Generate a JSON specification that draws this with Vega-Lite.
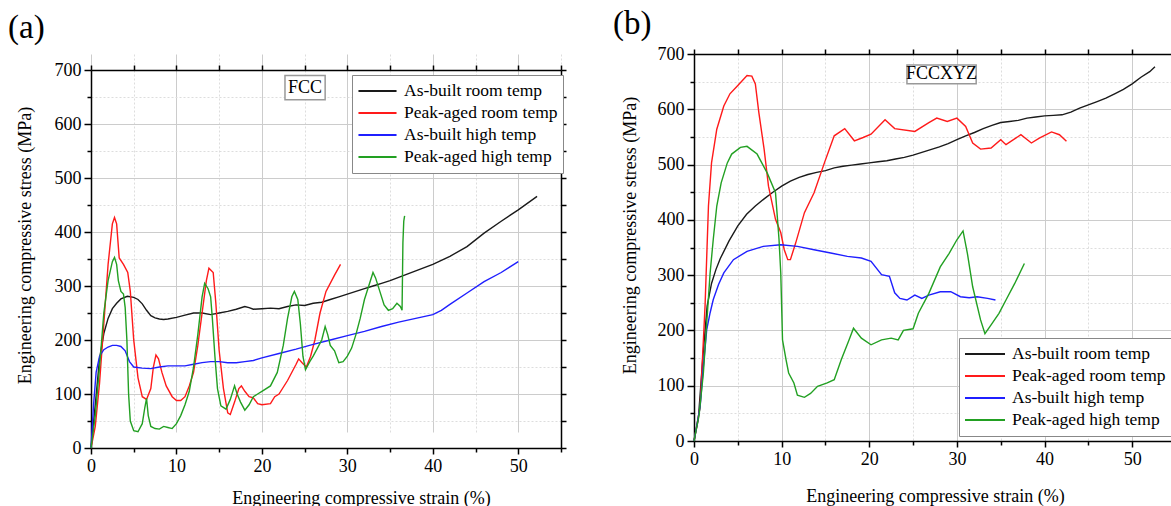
{
"$schema": "https://vega.github.io/schema/vega-lite/v6.json",
"background": "white",
"padding": {"left": 8, "top": 8, "right": 0, "bottom": 0},
"config": {"font": "Liberation Serif", "view": {"stroke": null},
 "axis": {"labelFont": "Liberation Serif", "titleFont": "Liberation Serif"},
 "legend": {"labelFont": "Liberation Serif"},
 "text": {"font": "Liberation Serif"},
 "title": {"font": "Liberation Serif"}},
"datasets": {
"a": [
{"series":"As-built room temp","strain":0,"stress":0},{"series":"As-built room temp","strain":0.5,"stress":80},{"series":"As-built room temp","strain":1,"stress":165},{"series":"As-built room temp","strain":1.5,"stress":212},{"series":"As-built room temp","strain":2,"stress":240},{"series":"As-built room temp","strain":2.5,"stress":258},{"series":"As-built room temp","strain":3,"stress":268},{"series":"As-built room temp","strain":3.5,"stress":276},{"series":"As-built room temp","strain":4.25,"stress":281},{"series":"As-built room temp","strain":5,"stress":279},{"series":"As-built room temp","strain":5.5,"stress":275},{"series":"As-built room temp","strain":6,"stress":267},{"series":"As-built room temp","strain":6.5,"stress":255},{"series":"As-built room temp","strain":7,"stress":245},{"series":"As-built room temp","strain":7.5,"stress":241},{"series":"As-built room temp","strain":8,"stress":239},{"series":"As-built room temp","strain":8.5,"stress":238},{"series":"As-built room temp","strain":9,"stress":239},{"series":"As-built room temp","strain":10,"stress":242},{"series":"As-built room temp","strain":11,"stress":246},{"series":"As-built room temp","strain":12,"stress":250},{"series":"As-built room temp","strain":13,"stress":250},{"series":"As-built room temp","strain":14,"stress":247},{"series":"As-built room temp","strain":15,"stress":250},{"series":"As-built room temp","strain":16,"stress":253},{"series":"As-built room temp","strain":17,"stress":257},{"series":"As-built room temp","strain":18,"stress":262},{"series":"As-built room temp","strain":18.5,"stress":260},{"series":"As-built room temp","strain":19,"stress":257},{"series":"As-built room temp","strain":20,"stress":258},{"series":"As-built room temp","strain":21,"stress":259},{"series":"As-built room temp","strain":22,"stress":258},{"series":"As-built room temp","strain":23,"stress":262},{"series":"As-built room temp","strain":24,"stress":265},{"series":"As-built room temp","strain":25,"stress":264},{"series":"As-built room temp","strain":26,"stress":268},{"series":"As-built room temp","strain":27,"stress":270},{"series":"As-built room temp","strain":28,"stress":275},{"series":"As-built room temp","strain":29,"stress":280},{"series":"As-built room temp","strain":30,"stress":285},{"series":"As-built room temp","strain":31,"stress":290},{"series":"As-built room temp","strain":32,"stress":295},{"series":"As-built room temp","strain":33,"stress":300},{"series":"As-built room temp","strain":34,"stress":305},{"series":"As-built room temp","strain":35,"stress":310},{"series":"As-built room temp","strain":36,"stress":316},{"series":"As-built room temp","strain":38,"stress":328},{"series":"As-built room temp","strain":40,"stress":340},{"series":"As-built room temp","strain":42,"stress":355},{"series":"As-built room temp","strain":44,"stress":373},{"series":"As-built room temp","strain":46,"stress":398},{"series":"As-built room temp","strain":48,"stress":420},{"series":"As-built room temp","strain":50,"stress":441},{"series":"As-built room temp","strain":52.2,"stress":466},
{"series":"Peak-aged room temp","strain":0,"stress":0},{"series":"Peak-aged room temp","strain":0.5,"stress":40},{"series":"Peak-aged room temp","strain":1,"stress":120},{"series":"Peak-aged room temp","strain":1.5,"stress":230},{"series":"Peak-aged room temp","strain":2,"stress":340},{"series":"Peak-aged room temp","strain":2.5,"stress":415},{"series":"Peak-aged room temp","strain":2.75,"stress":427},{"series":"Peak-aged room temp","strain":3,"stress":415},{"series":"Peak-aged room temp","strain":3.3,"stress":352},{"series":"Peak-aged room temp","strain":3.8,"stress":340},{"series":"Peak-aged room temp","strain":4.3,"stress":325},{"series":"Peak-aged room temp","strain":4.6,"stress":290},{"series":"Peak-aged room temp","strain":5,"stress":200},{"series":"Peak-aged room temp","strain":5.5,"stress":130},{"series":"Peak-aged room temp","strain":6,"stress":95},{"series":"Peak-aged room temp","strain":6.5,"stress":90},{"series":"Peak-aged room temp","strain":7,"stress":110},{"series":"Peak-aged room temp","strain":7.3,"stress":150},{"series":"Peak-aged room temp","strain":7.6,"stress":172},{"series":"Peak-aged room temp","strain":7.9,"stress":165},{"series":"Peak-aged room temp","strain":8.3,"stress":140},{"series":"Peak-aged room temp","strain":8.8,"stress":115},{"series":"Peak-aged room temp","strain":9.5,"stress":95},{"series":"Peak-aged room temp","strain":10,"stress":88},{"series":"Peak-aged room temp","strain":10.5,"stress":88},{"series":"Peak-aged room temp","strain":11,"stress":95},{"series":"Peak-aged room temp","strain":11.5,"stress":115},{"series":"Peak-aged room temp","strain":12,"stress":140},{"series":"Peak-aged room temp","strain":12.5,"stress":190},{"series":"Peak-aged room temp","strain":13,"stress":250},{"series":"Peak-aged room temp","strain":13.5,"stress":310},{"series":"Peak-aged room temp","strain":13.8,"stress":333},{"series":"Peak-aged room temp","strain":14.3,"stress":325},{"series":"Peak-aged room temp","strain":14.6,"stress":270},{"series":"Peak-aged room temp","strain":15,"stress":180},{"series":"Peak-aged room temp","strain":15.5,"stress":110},{"series":"Peak-aged room temp","strain":16,"stress":65},{"series":"Peak-aged room temp","strain":16.3,"stress":62},{"series":"Peak-aged room temp","strain":16.8,"stress":85},{"series":"Peak-aged room temp","strain":17.3,"stress":110},{"series":"Peak-aged room temp","strain":17.6,"stress":115},{"series":"Peak-aged room temp","strain":18,"stress":105},{"series":"Peak-aged room temp","strain":18.5,"stress":95},{"series":"Peak-aged room temp","strain":19,"stress":93},{"series":"Peak-aged room temp","strain":19.5,"stress":82},{"series":"Peak-aged room temp","strain":20,"stress":80},{"series":"Peak-aged room temp","strain":21,"stress":82},{"series":"Peak-aged room temp","strain":21.5,"stress":95},{"series":"Peak-aged room temp","strain":22,"stress":100},{"series":"Peak-aged room temp","strain":23,"stress":125},{"series":"Peak-aged room temp","strain":24,"stress":155},{"series":"Peak-aged room temp","strain":24.3,"stress":165},{"series":"Peak-aged room temp","strain":24.7,"stress":158},{"series":"Peak-aged room temp","strain":25.2,"stress":150},{"series":"Peak-aged room temp","strain":25.7,"stress":170},{"series":"Peak-aged room temp","strain":26.2,"stress":200},{"series":"Peak-aged room temp","strain":26.8,"stress":250},{"series":"Peak-aged room temp","strain":27.5,"stress":290},{"series":"Peak-aged room temp","strain":28.5,"stress":320},{"series":"Peak-aged room temp","strain":29.2,"stress":340},
{"series":"As-built high temp","strain":0,"stress":0},{"series":"As-built high temp","strain":0.3,"stress":80},{"series":"As-built high temp","strain":0.6,"stress":140},{"series":"As-built high temp","strain":1,"stress":170},{"series":"As-built high temp","strain":1.5,"stress":182},{"series":"As-built high temp","strain":2,"stress":187},{"series":"As-built high temp","strain":2.5,"stress":190},{"series":"As-built high temp","strain":3,"stress":190},{"series":"As-built high temp","strain":3.5,"stress":188},{"series":"As-built high temp","strain":4,"stress":180},{"series":"As-built high temp","strain":4.5,"stress":160},{"series":"As-built high temp","strain":5,"stress":150},{"series":"As-built high temp","strain":6,"stress":148},{"series":"As-built high temp","strain":7,"stress":147},{"series":"As-built high temp","strain":8,"stress":150},{"series":"As-built high temp","strain":9,"stress":152},{"series":"As-built high temp","strain":10,"stress":152},{"series":"As-built high temp","strain":11,"stress":152},{"series":"As-built high temp","strain":12,"stress":155},{"series":"As-built high temp","strain":13,"stress":158},{"series":"As-built high temp","strain":14,"stress":160},{"series":"As-built high temp","strain":15,"stress":160},{"series":"As-built high temp","strain":16,"stress":158},{"series":"As-built high temp","strain":17,"stress":158},{"series":"As-built high temp","strain":18,"stress":160},{"series":"As-built high temp","strain":19,"stress":162},{"series":"As-built high temp","strain":20,"stress":167},{"series":"As-built high temp","strain":22,"stress":175},{"series":"As-built high temp","strain":24,"stress":183},{"series":"As-built high temp","strain":26,"stress":192},{"series":"As-built high temp","strain":28,"stress":200},{"series":"As-built high temp","strain":30,"stress":208},{"series":"As-built high temp","strain":32,"stress":216},{"series":"As-built high temp","strain":34,"stress":225},{"series":"As-built high temp","strain":36,"stress":233},{"series":"As-built high temp","strain":38,"stress":240},{"series":"As-built high temp","strain":40,"stress":247},{"series":"As-built high temp","strain":41,"stress":255},{"series":"As-built high temp","strain":42,"stress":266},{"series":"As-built high temp","strain":44,"stress":287},{"series":"As-built high temp","strain":46,"stress":308},{"series":"As-built high temp","strain":48,"stress":325},{"series":"As-built high temp","strain":50,"stress":345},
{"series":"Peak-aged high temp","strain":0,"stress":0},{"series":"Peak-aged high temp","strain":0.5,"stress":60},{"series":"Peak-aged high temp","strain":1,"stress":150},{"series":"Peak-aged high temp","strain":1.5,"stress":250},{"series":"Peak-aged high temp","strain":2,"stress":310},{"series":"Peak-aged high temp","strain":2.5,"stress":345},{"series":"Peak-aged high temp","strain":2.75,"stress":353},{"series":"Peak-aged high temp","strain":3,"stress":340},{"series":"Peak-aged high temp","strain":3.2,"stress":310},{"series":"Peak-aged high temp","strain":3.5,"stress":290},{"series":"Peak-aged high temp","strain":3.8,"stress":285},{"series":"Peak-aged high temp","strain":4,"stress":260},{"series":"Peak-aged high temp","strain":4.2,"stress":200},{"series":"Peak-aged high temp","strain":4.4,"stress":100},{"series":"Peak-aged high temp","strain":4.6,"stress":50},{"series":"Peak-aged high temp","strain":5,"stress":32},{"series":"Peak-aged high temp","strain":5.5,"stress":30},{"series":"Peak-aged high temp","strain":6,"stress":45},{"series":"Peak-aged high temp","strain":6.3,"stress":75},{"series":"Peak-aged high temp","strain":6.5,"stress":92},{"series":"Peak-aged high temp","strain":6.7,"stress":60},{"series":"Peak-aged high temp","strain":7,"stress":40},{"series":"Peak-aged high temp","strain":7.5,"stress":36},{"series":"Peak-aged high temp","strain":8,"stress":35},{"series":"Peak-aged high temp","strain":8.5,"stress":40},{"series":"Peak-aged high temp","strain":9,"stress":38},{"series":"Peak-aged high temp","strain":9.5,"stress":36},{"series":"Peak-aged high temp","strain":10,"stress":45},{"series":"Peak-aged high temp","strain":10.5,"stress":60},{"series":"Peak-aged high temp","strain":11,"stress":80},{"series":"Peak-aged high temp","strain":11.5,"stress":105},{"series":"Peak-aged high temp","strain":12,"stress":150},{"series":"Peak-aged high temp","strain":12.5,"stress":210},{"series":"Peak-aged high temp","strain":13,"stress":280},{"series":"Peak-aged high temp","strain":13.3,"stress":305},{"series":"Peak-aged high temp","strain":13.7,"stress":295},{"series":"Peak-aged high temp","strain":14,"stress":280},{"series":"Peak-aged high temp","strain":14.2,"stress":240},{"series":"Peak-aged high temp","strain":14.5,"stress":170},{"series":"Peak-aged high temp","strain":14.8,"stress":110},{"series":"Peak-aged high temp","strain":15.2,"stress":78},{"series":"Peak-aged high temp","strain":15.8,"stress":72},{"series":"Peak-aged high temp","strain":16.3,"stress":90},{"series":"Peak-aged high temp","strain":16.8,"stress":115},{"series":"Peak-aged high temp","strain":17.1,"stress":100},{"series":"Peak-aged high temp","strain":17.5,"stress":85},{"series":"Peak-aged high temp","strain":18,"stress":70},{"series":"Peak-aged high temp","strain":18.5,"stress":80},{"series":"Peak-aged high temp","strain":19,"stress":95},{"series":"Peak-aged high temp","strain":19.5,"stress":100},{"series":"Peak-aged high temp","strain":20,"stress":105},{"series":"Peak-aged high temp","strain":21,"stress":115},{"series":"Peak-aged high temp","strain":21.8,"stress":140},{"series":"Peak-aged high temp","strain":22.5,"stress":190},{"series":"Peak-aged high temp","strain":23,"stress":240},{"series":"Peak-aged high temp","strain":23.5,"stress":280},{"series":"Peak-aged high temp","strain":23.8,"stress":290},{"series":"Peak-aged high temp","strain":24.2,"stress":275},{"series":"Peak-aged high temp","strain":24.5,"stress":230},{"series":"Peak-aged high temp","strain":24.8,"stress":170},{"series":"Peak-aged high temp","strain":25.1,"stress":145},{"series":"Peak-aged high temp","strain":25.6,"stress":160},{"series":"Peak-aged high temp","strain":26,"stress":170},{"series":"Peak-aged high temp","strain":26.5,"stress":185},{"series":"Peak-aged high temp","strain":27,"stress":200},{"series":"Peak-aged high temp","strain":27.4,"stress":225},{"series":"Peak-aged high temp","strain":27.7,"stress":210},{"series":"Peak-aged high temp","strain":28,"stress":190},{"series":"Peak-aged high temp","strain":28.5,"stress":180},{"series":"Peak-aged high temp","strain":29,"stress":158},{"series":"Peak-aged high temp","strain":29.5,"stress":160},{"series":"Peak-aged high temp","strain":30,"stress":170},{"series":"Peak-aged high temp","strain":30.5,"stress":185},{"series":"Peak-aged high temp","strain":31,"stress":210},{"series":"Peak-aged high temp","strain":31.5,"stress":240},{"series":"Peak-aged high temp","strain":32,"stress":275},{"series":"Peak-aged high temp","strain":32.5,"stress":300},{"series":"Peak-aged high temp","strain":33,"stress":325},{"series":"Peak-aged high temp","strain":33.3,"stress":315},{"series":"Peak-aged high temp","strain":33.8,"stress":290},{"series":"Peak-aged high temp","strain":34.3,"stress":265},{"series":"Peak-aged high temp","strain":34.8,"stress":255},{"series":"Peak-aged high temp","strain":35.3,"stress":258},{"series":"Peak-aged high temp","strain":35.8,"stress":268},{"series":"Peak-aged high temp","strain":36.2,"stress":262},{"series":"Peak-aged high temp","strain":36.4,"stress":255},{"series":"Peak-aged high temp","strain":36.5,"stress":380},{"series":"Peak-aged high temp","strain":36.6,"stress":420},{"series":"Peak-aged high temp","strain":36.7,"stress":430}
],
"b": [
{"series":"As-built room temp","strain":0,"stress":0},{"series":"As-built room temp","strain":0.5,"stress":40},{"series":"As-built room temp","strain":1,"stress":150},{"series":"As-built room temp","strain":1.5,"stress":244},{"series":"As-built room temp","strain":2,"stress":285},{"series":"As-built room temp","strain":2.5,"stress":310},{"series":"As-built room temp","strain":3,"stress":330},{"series":"As-built room temp","strain":4,"stress":362},{"series":"As-built room temp","strain":5,"stress":389},{"series":"As-built room temp","strain":6,"stress":410},{"series":"As-built room temp","strain":7,"stress":425},{"series":"As-built room temp","strain":8,"stress":438},{"series":"As-built room temp","strain":9,"stress":450},{"series":"As-built room temp","strain":10,"stress":461},{"series":"As-built room temp","strain":11,"stress":470},{"series":"As-built room temp","strain":12,"stress":477},{"series":"As-built room temp","strain":13,"stress":482},{"series":"As-built room temp","strain":14,"stress":486},{"series":"As-built room temp","strain":15,"stress":489},{"series":"As-built room temp","strain":16,"stress":494},{"series":"As-built room temp","strain":17,"stress":497},{"series":"As-built room temp","strain":18,"stress":499},{"series":"As-built room temp","strain":19,"stress":501},{"series":"As-built room temp","strain":20,"stress":503},{"series":"As-built room temp","strain":21,"stress":505},{"series":"As-built room temp","strain":22,"stress":507},{"series":"As-built room temp","strain":23,"stress":510},{"series":"As-built room temp","strain":24,"stress":513},{"series":"As-built room temp","strain":25,"stress":517},{"series":"As-built room temp","strain":26,"stress":522},{"series":"As-built room temp","strain":27,"stress":527},{"series":"As-built room temp","strain":28,"stress":532},{"series":"As-built room temp","strain":29,"stress":538},{"series":"As-built room temp","strain":30,"stress":545},{"series":"As-built room temp","strain":31,"stress":552},{"series":"As-built room temp","strain":32,"stress":558},{"series":"As-built room temp","strain":33,"stress":565},{"series":"As-built room temp","strain":34,"stress":571},{"series":"As-built room temp","strain":35,"stress":576},{"series":"As-built room temp","strain":36,"stress":578},{"series":"As-built room temp","strain":37,"stress":580},{"series":"As-built room temp","strain":38,"stress":584},{"series":"As-built room temp","strain":39,"stress":586},{"series":"As-built room temp","strain":40,"stress":588},{"series":"As-built room temp","strain":41,"stress":589},{"series":"As-built room temp","strain":42,"stress":590},{"series":"As-built room temp","strain":43,"stress":595},{"series":"As-built room temp","strain":44,"stress":602},{"series":"As-built room temp","strain":45,"stress":608},{"series":"As-built room temp","strain":46,"stress":614},{"series":"As-built room temp","strain":47,"stress":620},{"series":"As-built room temp","strain":48,"stress":628},{"series":"As-built room temp","strain":49,"stress":636},{"series":"As-built room temp","strain":50,"stress":646},{"series":"As-built room temp","strain":51,"stress":658},{"series":"As-built room temp","strain":52,"stress":668},{"series":"As-built room temp","strain":52.6,"stress":677},
{"series":"Peak-aged room temp","strain":0,"stress":0},{"series":"Peak-aged room temp","strain":0.7,"stress":62},{"series":"Peak-aged room temp","strain":1.26,"stress":244},{"series":"Peak-aged room temp","strain":1.65,"stress":425},{"series":"Peak-aged room temp","strain":2,"stress":503},{"series":"Peak-aged room temp","strain":2.6,"stress":564},{"series":"Peak-aged room temp","strain":3.4,"stress":606},{"series":"Peak-aged room temp","strain":4.1,"stress":628},{"series":"Peak-aged room temp","strain":5,"stress":643},{"series":"Peak-aged room temp","strain":6.05,"stress":661},{"series":"Peak-aged room temp","strain":6.6,"stress":660},{"series":"Peak-aged room temp","strain":7,"stress":646},{"series":"Peak-aged room temp","strain":7.4,"stress":594},{"series":"Peak-aged room temp","strain":8,"stress":528},{"series":"Peak-aged room temp","strain":8.5,"stress":461},{"series":"Peak-aged room temp","strain":9.3,"stress":401},{"series":"Peak-aged room temp","strain":9.9,"stress":377},{"series":"Peak-aged room temp","strain":10.3,"stress":346},{"series":"Peak-aged room temp","strain":10.7,"stress":328},{"series":"Peak-aged room temp","strain":11,"stress":328},{"series":"Peak-aged room temp","strain":11.6,"stress":358},{"series":"Peak-aged room temp","strain":12.6,"stress":413},{"series":"Peak-aged room temp","strain":13.7,"stress":449},{"series":"Peak-aged room temp","strain":14.9,"stress":504},{"series":"Peak-aged room temp","strain":16,"stress":552},{"series":"Peak-aged room temp","strain":17.2,"stress":565},{"series":"Peak-aged room temp","strain":18.3,"stress":543},{"series":"Peak-aged room temp","strain":19.3,"stress":549},{"series":"Peak-aged room temp","strain":20.2,"stress":555},{"series":"Peak-aged room temp","strain":21.8,"stress":581},{"series":"Peak-aged room temp","strain":22.9,"stress":565},{"series":"Peak-aged room temp","strain":25.2,"stress":560},{"series":"Peak-aged room temp","strain":26.8,"stress":576},{"series":"Peak-aged room temp","strain":27.7,"stress":584},{"series":"Peak-aged room temp","strain":28.9,"stress":578},{"series":"Peak-aged room temp","strain":30,"stress":584},{"series":"Peak-aged room temp","strain":31,"stress":569},{"series":"Peak-aged room temp","strain":31.8,"stress":539},{"series":"Peak-aged room temp","strain":32.7,"stress":528},{"series":"Peak-aged room temp","strain":33.9,"stress":530},{"series":"Peak-aged room temp","strain":35,"stress":545},{"series":"Peak-aged room temp","strain":35.6,"stress":536},{"series":"Peak-aged room temp","strain":37.3,"stress":554},{"series":"Peak-aged room temp","strain":38.5,"stress":539},{"series":"Peak-aged room temp","strain":39.4,"stress":548},{"series":"Peak-aged room temp","strain":40.8,"stress":559},{"series":"Peak-aged room temp","strain":41.7,"stress":554},{"series":"Peak-aged room temp","strain":42.5,"stress":542},
{"series":"As-built high temp","strain":0,"stress":0},{"series":"As-built high temp","strain":0.7,"stress":62},{"series":"As-built high temp","strain":1.07,"stress":135},{"series":"As-built high temp","strain":1.45,"stress":201},{"series":"As-built high temp","strain":1.84,"stress":232},{"series":"As-built high temp","strain":2.2,"stress":256},{"series":"As-built high temp","strain":2.8,"stress":283},{"series":"As-built high temp","strain":3.4,"stress":304},{"series":"As-built high temp","strain":4.5,"stress":328},{"series":"As-built high temp","strain":6.05,"stress":343},{"series":"As-built high temp","strain":7.9,"stress":352},{"series":"As-built high temp","strain":9.9,"stress":355},{"series":"As-built high temp","strain":11.8,"stress":352},{"series":"As-built high temp","strain":13.7,"stress":346},{"series":"As-built high temp","strain":15.6,"stress":340},{"series":"As-built high temp","strain":17.5,"stress":334},{"series":"As-built high temp","strain":19.1,"stress":331},{"series":"As-built high temp","strain":20.2,"stress":325},{"series":"As-built high temp","strain":21.4,"stress":301},{"series":"As-built high temp","strain":22.3,"stress":298},{"series":"As-built high temp","strain":22.9,"stress":268},{"series":"As-built high temp","strain":23.5,"stress":258},{"series":"As-built high temp","strain":24.3,"stress":255},{"series":"As-built high temp","strain":25.2,"stress":264},{"series":"As-built high temp","strain":26,"stress":258},{"series":"As-built high temp","strain":26.8,"stress":264},{"series":"As-built high temp","strain":28.1,"stress":270},{"series":"As-built high temp","strain":29.3,"stress":270},{"series":"As-built high temp","strain":30.4,"stress":261},{"series":"As-built high temp","strain":31.4,"stress":259},{"series":"As-built high temp","strain":32.3,"stress":261},{"series":"As-built high temp","strain":33.5,"stress":258},{"series":"As-built high temp","strain":34.4,"stress":255},
{"series":"Peak-aged high temp","strain":0,"stress":0},{"series":"Peak-aged high temp","strain":0.6,"stress":50},{"series":"Peak-aged high temp","strain":1.07,"stress":123},{"series":"Peak-aged high temp","strain":1.45,"stress":213},{"series":"Peak-aged high temp","strain":1.84,"stress":304},{"series":"Peak-aged high temp","strain":2.2,"stress":365},{"series":"Peak-aged high temp","strain":2.6,"stress":425},{"series":"Peak-aged high temp","strain":3.1,"stress":467},{"series":"Peak-aged high temp","strain":3.8,"stress":503},{"series":"Peak-aged high temp","strain":4.3,"stress":519},{"series":"Peak-aged high temp","strain":5.3,"stress":531},{"series":"Peak-aged high temp","strain":6.05,"stress":533},{"series":"Peak-aged high temp","strain":7.2,"stress":519},{"series":"Peak-aged high temp","strain":8.35,"stress":485},{"series":"Peak-aged high temp","strain":9.3,"stress":449},{"series":"Peak-aged high temp","strain":9.7,"stress":365},{"series":"Peak-aged high temp","strain":9.9,"stress":304},{"series":"Peak-aged high temp","strain":10.1,"stress":183},{"series":"Peak-aged high temp","strain":10.5,"stress":147},{"series":"Peak-aged high temp","strain":10.8,"stress":123},{"series":"Peak-aged high temp","strain":11.4,"stress":105},{"series":"Peak-aged high temp","strain":11.8,"stress":83},{"series":"Peak-aged high temp","strain":12.6,"stress":79},{"series":"Peak-aged high temp","strain":13.3,"stress":86},{"series":"Peak-aged high temp","strain":14.1,"stress":99},{"series":"Peak-aged high temp","strain":15.2,"stress":105},{"series":"Peak-aged high temp","strain":16,"stress":111},{"series":"Peak-aged high temp","strain":16.8,"stress":147},{"series":"Peak-aged high temp","strain":17.7,"stress":183},{"series":"Peak-aged high temp","strain":18.2,"stress":204},{"series":"Peak-aged high temp","strain":19.1,"stress":186},{"series":"Peak-aged high temp","strain":20.2,"stress":174},{"series":"Peak-aged high temp","strain":21.4,"stress":183},{"series":"Peak-aged high temp","strain":22.5,"stress":186},{"series":"Peak-aged high temp","strain":23.3,"stress":183},{"series":"Peak-aged high temp","strain":23.9,"stress":200},{"series":"Peak-aged high temp","strain":25,"stress":203},{"series":"Peak-aged high temp","strain":25.6,"stress":231},{"series":"Peak-aged high temp","strain":26.8,"stress":267},{"series":"Peak-aged high temp","strain":28.1,"stress":315},{"series":"Peak-aged high temp","strain":29.1,"stress":339},{"series":"Peak-aged high temp","strain":30,"stress":364},{"series":"Peak-aged high temp","strain":30.7,"stress":380},{"series":"Peak-aged high temp","strain":31.2,"stress":339},{"series":"Peak-aged high temp","strain":31.8,"stress":279},{"series":"Peak-aged high temp","strain":32.7,"stress":219},{"series":"Peak-aged high temp","strain":33.2,"stress":194},{"series":"Peak-aged high temp","strain":33.9,"stress":210},{"series":"Peak-aged high temp","strain":34.8,"stress":231},{"series":"Peak-aged high temp","strain":35.6,"stress":255},{"series":"Peak-aged high temp","strain":36.6,"stress":285},{"series":"Peak-aged high temp","strain":37.7,"stress":321}
]
},
"spacing": 46,
"resolve": {"legend": {"color": "independent"}, "scale": {"x": "independent", "y": "independent", "color": "independent"}},
"hconcat": [
{
"width": 470, "height": 394,
"title": {"text": "(a)", "anchor": "start", "frame": "bounds", "fontSize": 33, "fontWeight": "normal", "offset": 9, "dx": -8, "color": "black", "font": "Liberation Serif"},
"data": {"name": "a"},
"layer": [
{"mark": {"type": "line", "strokeWidth": 1.4},
 "encoding": {
  "x": {"field": "strain", "type": "quantitative", "scale": {"domain": [0, 55], "nice": false, "zero": false},
   "axis": {"orient": "bottom", "values": [0,5,10,15,20,25,30,35,40,45,50,55], "labelExpr": "datum.value % 10 === 0 && datum.value < 55 ? datum.label : ''", "title": "Engineering compressive strain (%)", "titleX": 270, "grid": true,
    "gridColor": {"condition": {"test": "datum.value % 10 === 0", "value": "#cccccc"}, "value": "#dddddd"},
    "gridDash": {"condition": {"test": "datum.value % 10 === 0", "value": []}, "value": [2, 2]},
    "tickSize": {"condition": {"test": "datum.value % 10 === 0", "value": 6}, "value": 4},
    "labelFont": "Liberation Serif", "titleFont": "Liberation Serif",
    "labelFontSize": 18, "titleFontSize": 18, "titleFontWeight": "normal", "titlePadding": 14, "labelPadding": 3, "labelFlush": false, "labelOverlap": false,
    "domainColor": "black", "domainWidth": 1.5, "tickColor": "black", "tickWidth": 1.5, "labelColor": "black", "titleColor": "black"}},
  "y": {"field": "stress", "type": "quantitative", "scale": {"domain": [0, 700], "nice": false, "range": [394, 16]},
   "axis": {"orient": "left", "values": [0,50,100,150,200,250,300,350,400,450,500,550,600,650,700], "labelExpr": "datum.value % 100 === 0 ? datum.label : ''", "title": "Engineering compressive stress (MPa)", "titleY": 191, "grid": true,
    "gridColor": {"condition": {"test": "datum.value % 100 === 0", "value": "#cccccc"}, "value": "#dddddd"},
    "gridDash": {"condition": {"test": "datum.value % 100 === 0", "value": []}, "value": [2, 2]},
    "tickSize": {"condition": {"test": "datum.value % 100 === 0", "value": 7}, "value": 4},
    "labelFont": "Liberation Serif", "titleFont": "Liberation Serif",
    "labelFontSize": 18, "titleFontSize": 18, "titleFontWeight": "normal", "titlePadding": 20, "labelPadding": 3, "labelFlush": false, "labelOverlap": false,
    "domainColor": "black", "domainWidth": 1.5, "tickColor": "black", "tickWidth": 1.5, "labelColor": "black", "titleColor": "black"}},
  "color": {"field": "series", "type": "nominal",
   "scale": {"domain": ["As-built room temp", "Peak-aged room temp", "As-built high temp", "Peak-aged high temp"], "range": ["#1a1a1a", "#ff1a1a", "#1f1fff", "#22a022"]},
   "legend": {"title": null, "orient": "none", "legendX": 261, "legendY": 21, "strokeColor": "#888888", "fillColor": "white", "padding": 5, "labelFont": "Liberation Serif", "labelFontSize": 17.5, "labelColor": "black", "symbolType": "stroke", "symbolSize": 1450, "symbolStrokeWidth": 2, "clipHeight": 22, "labelOffset": 6, "rowPadding": 0}},
  "strokeWidth": {"field": "series", "type": "nominal", "scale": {"domain": ["As-built room temp", "Peak-aged room temp", "As-built high temp", "Peak-aged high temp"], "range": [1.4, 1.4, 2.2, 1.4]}, "legend": null}
 }},
{"data": {"values": [{}]},
 "mark": {"type": "rect", "fill": "white", "stroke": "#999999", "strokeWidth": 1.5},
 "encoding": {
  "x": {"datum": 22.7, "type": "quantitative", "axis": {"orient": "top", "offset": -16, "values": [0,5,10,15,20,25,30,35,40,45,50,55], "labels": false, "grid": false, "title": null, "tickSize": 5, "domainColor": "black", "domainWidth": 1.5, "tickColor": "black", "tickWidth": 1.5}},
  "x2": {"datum": 27.4},
  "y": {"datum": 645, "type": "quantitative", "axis": {"orient": "right", "values": [0,50,100,150,200,250,300,350,400,450,500,550,600,650,700], "labels": false, "grid": false, "title": null, "tickSize": 5, "domainColor": "black", "domainWidth": 1.5, "tickColor": "black", "tickWidth": 1.5}},
  "y2": {"datum": 690}
 }},
{"data": {"values": [{}]},
 "mark": {"type": "text", "fontSize": 18, "font": "Liberation Serif", "color": "black", "align": "center", "baseline": "middle"},
 "encoding": {"x": {"datum": 25.05, "type": "quantitative", "axis": null}, "y": {"datum": 666, "type": "quantitative", "axis": null}, "text": {"value": "FCC"}}}
],
"resolve": {"axis": {"x": "independent", "y": "independent"}}
},
{
"width": 482, "height": 387,
"title": {"text": "(b)", "anchor": "start", "frame": "bounds", "fontSize": 33, "fontWeight": "normal", "offset": 4, "dx": -8, "color": "black", "font": "Liberation Serif"},
"data": {"name": "b"},
"layer": [
{"mark": {"type": "line", "strokeWidth": 1.4},
 "encoding": {
  "x": {"field": "strain", "type": "quantitative", "scale": {"domain": [0, 55], "nice": false, "zero": false},
   "axis": {"orient": "bottom", "values": [0,5,10,15,20,25,30,35,40,45,50,55], "labelExpr": "datum.value % 10 === 0 && datum.value < 55 ? datum.label : ''", "title": "Engineering compressive strain (%)", "grid": true,
    "gridColor": {"condition": {"test": "datum.value % 10 === 0", "value": "#cccccc"}, "value": "#dddddd"},
    "gridDash": {"condition": {"test": "datum.value % 10 === 0", "value": []}, "value": [2, 2]},
    "tickSize": {"condition": {"test": "datum.value % 10 === 0", "value": 6}, "value": 4},
    "labelFont": "Liberation Serif", "titleFont": "Liberation Serif",
    "labelFontSize": 18, "titleFontSize": 18, "titleFontWeight": "normal", "titlePadding": 19, "labelPadding": 3, "labelFlush": false, "labelOverlap": false,
    "domainColor": "black", "domainWidth": 1.5, "tickColor": "black", "tickWidth": 1.5, "labelColor": "black", "titleColor": "black"}},
  "y": {"field": "stress", "type": "quantitative", "scale": {"domain": [0, 700], "nice": false},
   "axis": {"orient": "left", "values": [0,50,100,150,200,250,300,350,400,450,500,550,600,650,700], "labelExpr": "datum.value % 100 === 0 ? datum.label : ''", "title": "Engineering compressive stress (MPa)", "titleY": 181, "grid": true,
    "gridColor": {"condition": {"test": "datum.value % 100 === 0", "value": "#cccccc"}, "value": "#dddddd"},
    "gridDash": {"condition": {"test": "datum.value % 100 === 0", "value": []}, "value": [2, 2]},
    "tickSize": {"condition": {"test": "datum.value % 100 === 0", "value": 7}, "value": 4},
    "labelFont": "Liberation Serif", "titleFont": "Liberation Serif",
    "labelFontSize": 18, "titleFontSize": 18, "titleFontWeight": "normal", "titlePadding": 18, "labelPadding": 3, "labelFlush": false, "labelOverlap": false,
    "domainColor": "black", "domainWidth": 1.5, "tickColor": "black", "tickWidth": 1.5, "labelColor": "black", "titleColor": "black"}},
  "color": {"field": "series", "type": "nominal",
   "scale": {"domain": ["As-built room temp", "Peak-aged room temp", "As-built high temp", "Peak-aged high temp"], "range": ["#1a1a1a", "#ff1a1a", "#1f1fff", "#22a022"]},
   "legend": {"title": null, "orient": "bottom-right", "offset": 5, "strokeColor": "#888888", "fillColor": "white", "padding": 5, "labelFont": "Liberation Serif", "labelFontSize": 17.5, "labelColor": "black", "symbolType": "stroke", "symbolSize": 1600, "symbolStrokeWidth": 2, "clipHeight": 22, "labelOffset": 6, "rowPadding": 0}},
  "strokeWidth": {"field": "series", "type": "nominal", "scale": {"domain": ["As-built room temp", "Peak-aged room temp", "As-built high temp", "Peak-aged high temp"], "range": [1.5, 1.5, 1.5, 1.5]}, "legend": null}
 }},
{"data": {"values": [{}]},
 "mark": {"type": "rect", "fill": "white", "stroke": "#999999", "strokeWidth": 1.5},
 "encoding": {
  "x": {"datum": 24.3, "type": "quantitative", "axis": {"orient": "top", "values": [0,5,10,15,20,25,30,35,40,45,50,55], "labels": false, "grid": false, "title": null, "tickSize": 5, "domainColor": "black", "domainWidth": 1.5, "tickColor": "black", "tickWidth": 1.5}},
  "x2": {"datum": 32.2},
  "y": {"datum": 646, "type": "quantitative", "axis": {"orient": "right", "values": [0,50,100,150,200,250,300,350,400,450,500,550,600,650,700], "labels": false, "grid": false, "title": null, "tickSize": 5, "domainColor": "black", "domainWidth": 1.5, "tickColor": "black", "tickWidth": 1.5}},
  "y2": {"datum": 680}
 }},
{"data": {"values": [{}]},
 "mark": {"type": "text", "fontSize": 18, "font": "Liberation Serif", "color": "black", "align": "center", "baseline": "middle"},
 "encoding": {"x": {"datum": 28.25, "type": "quantitative", "axis": null}, "y": {"datum": 663, "type": "quantitative", "axis": null}, "text": {"value": "FCCXYZ"}}}
],
"resolve": {"axis": {"x": "independent", "y": "independent"}}
}
]
}
